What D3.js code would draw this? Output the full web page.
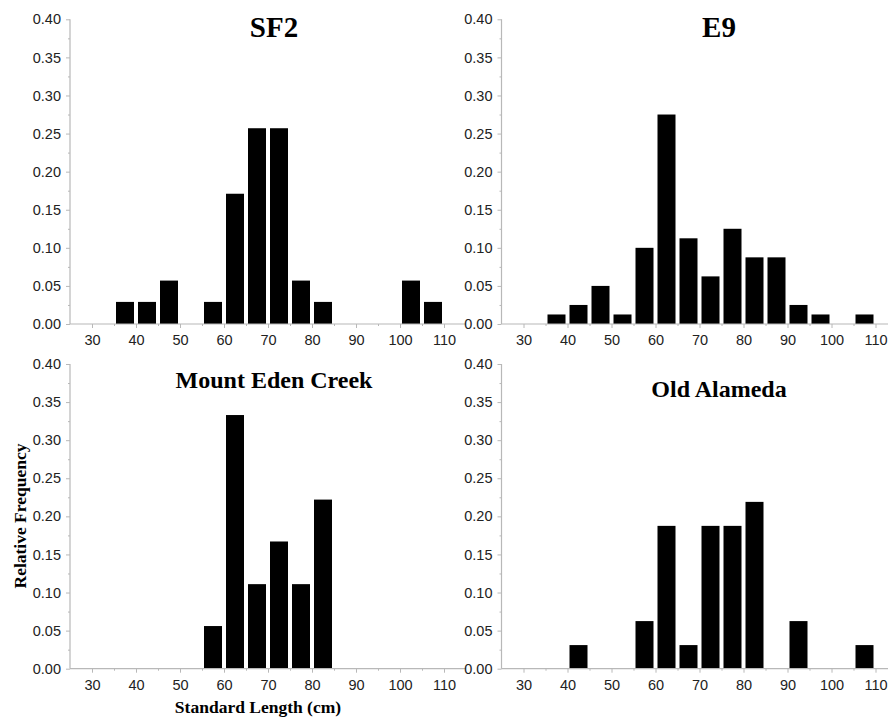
<!DOCTYPE html>
<html>
<head>
<meta charset="utf-8">
<script src="https://cdn.jsdelivr.net/npm/d3@7"></script>
<style>
  html, body { margin: 0; padding: 0; background: #fff; }
  svg { display: block; }
</style>
</head>
<body>
<svg id="chart" width="888" height="722"></svg>
<script>
// ---- data ----
const binStarts = [35, 40, 45, 50, 55, 60, 65, 70, 75, 80, 85, 90, 95, 100, 105];
const binWidth = 5;
const sf2 = [0.029, 0.029, 0.057, 0, 0.029, 0.171, 0.257, 0.257, 0.057, 0.029, 0, 0, 0, 0.057, 0.029];
const e9 = [0.0125, 0.025, 0.05, 0.0125, 0.1, 0.275, 0.1125, 0.0625, 0.125, 0.0875, 0.0875, 0.025, 0.0125, 0, 0.0125];
const mountEden = [0, 0, 0, 0, 0.056, 0.333, 0.111, 0.167, 0.111, 0.222, 0, 0, 0, 0, 0];
const oldAlameda = [0, 0.031, 0, 0, 0.0625, 0.1875, 0.031, 0.1875, 0.1875, 0.219, 0, 0.0625, 0, 0, 0.031];
const panelTitles = ["SF2", "E9", "Mount Eden Creek", "Old Alameda"];
const xTicks = [30, 40, 50, 60, 70, 80, 90, 100, 110];
const xMinorTicks = [35, 45, 55, 65, 75, 85, 95, 105];
const yTicks = [0, 0.05, 0.10, 0.15, 0.20, 0.25, 0.30, 0.35, 0.40];
const yMinorTicks = [0.025, 0.075, 0.125, 0.175, 0.225, 0.275, 0.325, 0.375];
const xLabel = "Standard Length (cm)";
const yLabel = "Relative Frequency";

// ---- layout ----
const panels = [
  { values: sf2,        title: panelTitles[0], left: 70,    top: 19.3, bottom: 324,   tx: 274, ty: 37,  ts: 29 },
  { values: e9,         title: panelTitles[1], left: 501.5, top: 19.3, bottom: 324,   tx: 719, ty: 37,  ts: 29 },
  { values: mountEden,  title: panelTitles[2], left: 70,    top: 364,  bottom: 668.7, tx: 274, ty: 388, ts: 24 },
  { values: oldAlameda, title: panelTitles[3], left: 501.5, top: 364,  bottom: 668.7, tx: 719, ty: 397, ts: 24 }
];
const plotW = 396;
const axisColor = "#b8b8b8";
const tickFontSize = 14.5;
const sans = "Arial, 'Liberation Sans', sans-serif";
const serif = "'Times New Roman', 'Liberation Serif', serif";

const svg = d3.select("#chart");

panels.forEach(p => {
  const x = d3.scaleLinear().domain([25, 115]).range([p.left, p.left + plotW]);
  const y = d3.scaleLinear().domain([0, 0.40]).range([p.bottom, p.top]);
  const g = svg.append("g");

  // bars
  const data = binStarts.map((s, i) => ({ x0: s, x1: s + binWidth, v: p.values[i] })).filter(d => d.v > 0);
  g.selectAll("rect.bar").data(data).enter().append("rect")
    .attr("class", "bar")
    .attr("x", d => x(d.x0) + 2)
    .attr("width", d => x(d.x1) - x(d.x0) - 4)
    .attr("y", d => y(d.v))
    .attr("height", d => y(0) - y(d.v))
    .attr("fill", "#000");

  // y axis
  const yAxis = d3.axisLeft(y).tickValues(yTicks).tickFormat(d3.format(".2f")).tickSize(4).tickPadding(5);
  const ya = g.append("g").attr("transform", `translate(${p.left},0)`).call(yAxis);
  const yMinor = d3.axisLeft(y).tickValues(yMinorTicks).tickFormat("").tickSize(2);
  const ym = g.append("g").attr("transform", `translate(${p.left},0)`).call(yMinor);
  ym.select(".domain").remove();

  // x axis
  const xAxis = d3.axisBottom(x).tickValues(xTicks).tickSize(4).tickPadding(7);
  const xa = g.append("g").attr("transform", `translate(0,${p.bottom})`).call(xAxis);
  const xMinor = d3.axisBottom(x).tickValues(xMinorTicks).tickFormat("").tickSize(2);
  const xm = g.append("g").attr("transform", `translate(0,${p.bottom})`).call(xMinor);
  xm.select(".domain").remove();

  [ya, ym, xa, xm].forEach(a => {
    a.attr("font-size", tickFontSize).attr("font-family", sans);
    a.selectAll(".domain").attr("stroke", axisColor).attr("stroke-width", 1.2);
    a.selectAll(".tick line").attr("stroke", axisColor).attr("stroke-width", 1);
    a.selectAll(".tick text").attr("fill", "#222").attr("font-size", tickFontSize);
  });
  ya.select(".domain").attr("d", `M-0,${p.top}V${p.bottom}`);
  xa.select(".domain").attr("d", `M${p.left},0H${p.left + plotW}`);

  // title
  g.append("text")
    .attr("x", p.tx).attr("y", p.ty)
    .attr("text-anchor", "middle")
    .attr("font-family", serif).attr("font-weight", "bold").attr("font-size", p.ts)
    .attr("fill", "#000")
    .text(p.title);
});

// axis titles
svg.append("text")
  .attr("x", 258).attr("y", 713)
  .attr("text-anchor", "middle")
  .attr("font-family", serif).attr("font-weight", "bold").attr("font-size", 17.5)
  .text(xLabel);

svg.append("text")
  .attr("transform", "translate(26,516) rotate(-90)")
  .attr("text-anchor", "middle")
  .attr("font-family", serif).attr("font-weight", "bold").attr("font-size", 17.5)
  .text(yLabel);
</script>
</body>
</html>
